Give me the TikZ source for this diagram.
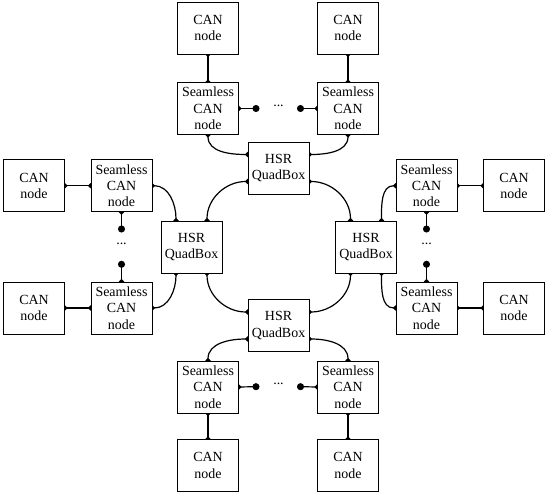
\documentclass[tikz,border=0pt]{standalone}
\usepackage{fontspec}
\setmainfont{Liberation Serif}
\usetikzlibrary{arrows.meta, backgrounds}

\begin{document}
\begin{tikzpicture}[
  x=1bp, y=1bp,
  font=\fontsize{14}{16.5}\selectfont,
  can/.style={rectangle, draw, fill=white, align=center, line width=0.8bp,
              minimum width=61bp, minimum height=52bp, inner sep=0pt},
  seam/.style={can},
  quad/.style={can},
  link/.style={line width=1.2bp, {Circle[length=5bp]}-{Circle[length=5bp]},
               shorten <=-2.5bp, shorten >=-2.5bp},
  stub/.style={line width=1.2bp, {Circle[length=5bp]}-{Circle[length=7bp]},
               shorten <=-2.5bp, shorten >=-3.5bp}
]
\useasboundingbox (0,0) rectangle (550,497);
% ring of HSR QuadBoxes
\node[quad] (qt) at (278.5,329)   {HSR\\ QuadBox};
\node[quad] (ql) at (191.5,250)   {HSR\\ QuadBox};
\node[quad] (qr) at (366,250)     {HSR\\ QuadBox};
\node[quad] (qb) at (278.5,171.5) {HSR\\ QuadBox};
% seamless CAN nodes hanging off each QuadBox
\node[seam] (st1) at (208,388.5)   {Seamless\\ CAN\\ node};
\node[seam] (st2) at (348,388.5)   {Seamless\\ CAN\\ node};
\node[seam] (sl1) at (121.5,311.3) {Seamless\\ CAN\\ node};
\node[seam] (sl2) at (121.5,189)   {Seamless\\ CAN\\ node};
\node[seam] (sr1) at (426.5,311.3) {Seamless\\ CAN\\ node};
\node[seam] (sr2) at (426.5,189)   {Seamless\\ CAN\\ node};
\node[seam] (sb1) at (208,110)     {Seamless\\ CAN\\ node};
\node[seam] (sb2) at (348,110)     {Seamless\\ CAN\\ node};
% plain CAN nodes
\node[can] (ct1) at (208,469)   {CAN\\ node};
\node[can] (ct2) at (348,469)   {CAN\\ node};
\node[can] (cl1) at (34,311.3)  {CAN\\ node};
\node[can] (cl2) at (34,189)    {CAN\\ node};
\node[can] (cr1) at (514,311.3) {CAN\\ node};
\node[can] (cr2) at (514,189)   {CAN\\ node};
\node[can] (cb1) at (208,31.5)  {CAN\\ node};
\node[can] (cb2) at (348,31.5)  {CAN\\ node};
% further seamless nodes left out
\coordinate (dt1) at (256,388.5);   \coordinate (dt2) at (300.5,388.5);
\coordinate (dl1) at (121.5,268);   \coordinate (dl2) at (121.5,232.7);
\coordinate (dr1) at (426.5,268);   \coordinate (dr2) at (426.5,232.7);
\coordinate (db1) at (256,110.3);   \coordinate (db2) at (300.5,110.3);
\node (et) at (278.5,391)   {...};
\node (el) at (121.5,252.7) {...};
\node (er) at (426.5,252.7) {...};
\node (eb) at (278.5,112.7) {...};
\begin{scope}[on background layer]
% ring links
\draw[link] (st1.south) to[out=-90,in=180] ([yshift=13.5bp]qt.west);
\draw[link] (st2.south) to[out=-90,in=0] ([yshift=13.5bp]qt.east);
\draw[link] ([yshift=-13.5bp]qt.west) to[out=180,in=90] ([xshift=15.5bp]ql.north);
\draw[link] ([yshift=-13.5bp]qt.east) to[out=0,in=90] ([xshift=-15.5bp]qr.north);
\draw[link] (sl1.east) to[out=0,in=90] ([xshift=-15.5bp]ql.north);
\draw[link] (sr1.west) to[out=180,in=90] ([xshift=15.5bp]qr.north);
\draw[link] (sl2.east) to[out=0,in=-90] ([xshift=-15.5bp]ql.south);
\draw[link] (sr2.west) to[out=180,in=-90] ([xshift=15.5bp]qr.south);
\draw[link] ([xshift=15.5bp]ql.south) to[out=-90,in=180] ([yshift=13.5bp]qb.west);
\draw[link] ([xshift=-15.5bp]qr.south) to[out=-90,in=0] ([yshift=13.5bp]qb.east);
\draw[link] ([yshift=-13.5bp]qb.west) to[out=180,in=90] (sb1.north);
\draw[link] ([yshift=-13.5bp]qb.east) to[out=0,in=90] (sb2.north);
% CAN node attachments
\draw[link] (ct1.south) -- (st1.north);
\draw[link] (ct2.south) -- (st2.north);
\draw[link] (cl1.east) -- (sl1.west);
\draw[link] (cl2.east) -- (sl2.west);
\draw[link] (cr1.west) -- (sr1.east);
\draw[link] (cr2.west) -- (sr2.east);
\draw[link] (cb1.north) -- (sb1.south);
\draw[link] (cb2.north) -- (sb2.south);
% stubs towards the omitted nodes
\draw[stub] (st1.east) -- (dt1);
\draw[stub] (st2.west) -- (dt2);
\draw[stub] (sl1.south) -- (dl1);
\draw[stub] (sl2.north) -- (dl2);
\draw[stub] (sr1.south) -- (dr1);
\draw[stub] (sr2.north) -- (dr2);
\draw[stub] (sb1.east) -- (db1);
\draw[stub] (sb2.west) -- (db2);
\end{scope}
\end{tikzpicture}
\end{document}
